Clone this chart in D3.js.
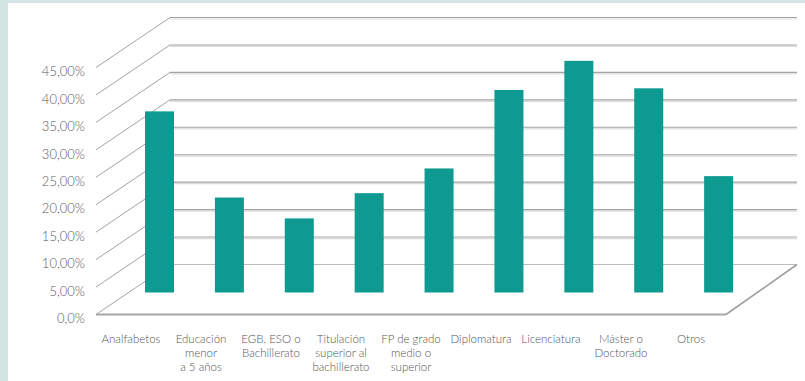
<!DOCTYPE html>
<html>
<head>
<meta charset="utf-8">
<script src="https://cdn.jsdelivr.net/npm/d3@7"></script>
<style>
  html, body { margin: 0; padding: 0; background: #d3e5e3; }
  svg { display: block; }
  text { font-family: Lato, "Open Sans", sans-serif; }
</style>
</head>
<body>
<svg id="chart" width="805" height="381"></svg>
<script>
// data
const categories = [
    "Analfabetos",
    "Educación\nmenor\na 5 años",
    "EGB, ESO o\nBachillerato",
    "Titulación\nsuperior al\nbachillerato",
    "FP de grado\nmedio o\nsuperior",
    "Diplomatura",
    "Licenciatura",
    "Máster o\nDoctorado",
    "Otros"
];
const values = [33.0, 17.3, 13.5, 18.1, 22.6, 36.9, 42.2, 37.2, 21.2];
const tickValues = [0, 5, 10, 15, 20, 25, 30, 35, 40, 45];
const tickLabels = ["0,0%", "5,00%", "10,00%", "15,00%", "20,00%", "25,00%", "30,00%", "35,00%", "40,00%", "45,00%"];

// geometry of the fake 3d box
const floorFront = 314.5, floorBack = 264.5;
const frontX = [96, 726], backX = [170, 797];
const depthX = backX[0] - frontX[0], depthY = floorFront - floorBack;
const barDepth = 0.44;   // bars sit a bit less than halfway into the box

const svg = d3.select("#chart");

// white panel
svg.append("rect")
    .attr("x", 8).attr("y", 3)
    .attr("width", 805 - 8).attr("height", 381 - 3)
    .attr("fill", "#fff");

const h = d3.scaleLinear().domain([0, 45]).range([0, 247]);

const xFront = d3.scaleBand().domain(categories).range(frontX);
const xBar = d3.scaleBand().domain(categories)
    .range([frontX[0] + depthX * barDepth - 4, frontX[1] + depthX * barDepth - 5])
    .paddingInner(0.585).paddingOuter(0.2925);
const barBase = floorFront - depthY * barDepth;

const grid = svg.append("g");

// back wall lines (with the light shadow excel puts under them)
grid.selectAll("line.shadow")
    .data(tickValues.slice(1))
    .join("line")
    .attr("class", "shadow")
    .attr("x1", backX[0]).attr("x2", backX[1])
    .attr("y1", d => floorBack - h(d) + 1.5)
    .attr("y2", d => floorBack - h(d) + 1.5)
    .attr("stroke", "#dcdcdc").attr("stroke-width", 1.2);

grid.selectAll("line.back")
    .data(tickValues)
    .join("line")
    .attr("class", "back")
    .attr("x1", backX[0]).attr("x2", backX[1])
    .attr("y1", d => floorBack - h(d))
    .attr("y2", d => floorBack - h(d))
    .attr("stroke", d => d === 0 ? "#bdbdbd" : "#a3a3a3")
    .attr("stroke-width", 1.1);

// left side wall diagonals
grid.selectAll("line.side")
    .data(tickValues)
    .join("line")
    .attr("class", "side")
    .attr("x1", frontX[0]).attr("y1", d => floorFront - h(d))
    .attr("x2", backX[0]).attr("y2", d => floorBack - h(d))
    .attr("stroke", "#a3a3a3").attr("stroke-width", 1);

// floor front edge + right edge
grid.append("line")
    .attr("x1", frontX[0]).attr("x2", frontX[1])
    .attr("y1", floorFront).attr("y2", floorFront)
    .attr("stroke", "#a8a8a8").attr("stroke-width", 2);
grid.append("line")
    .attr("x1", frontX[1]).attr("y1", floorFront)
    .attr("x2", backX[1]).attr("y2", floorBack)
    .attr("stroke", "#a0a0a0").attr("stroke-width", 1.6);

// bars
svg.append("g")
    .selectAll("rect")
    .data(values)
    .join("rect")
    .attr("x", (d, i) => xBar(categories[i]))
    .attr("width", xBar.bandwidth())
    .attr("y", d => barBase - h(d))
    .attr("height", d => h(d))
    .attr("fill", "#0e9a91");

// y labels
const yFront = d3.scaleLinear().domain([0, 45]).range([floorFront, floorFront - h(45)]);
const yAxis = d3.axisLeft(yFront)
    .tickValues(tickValues)
    .tickFormat((d, i) => tickLabels[i])
    .tickSize(0)
    .tickPadding(0);

svg.append("g")
    .attr("transform", "translate(85,4)")
    .call(yAxis)
    .call(g => g.select(".domain").remove())
    .selectAll("text")
    .attr("fill", "#5a5a5a")
    .style("font-family", "Lato, sans-serif")
    .style("font-size", "13px")
    .style("font-weight", 300);

// category labels
const lab = svg.append("g")
    .selectAll("text")
    .data(categories)
    .join("text")
    .attr("x", d => xFront(d) + xFront.bandwidth() / 2)
    .attr("y", 343)
    .attr("text-anchor", "middle")
    .attr("fill", "#555")
    .style("font-size", "11.5px")
    .style("font-weight", 300);

lab.selectAll("tspan")
    .data(d => d.split("\n"))
    .join("tspan")
    .attr("x", function () { return this.parentNode.getAttribute("x"); })
    .attr("dy", (d, i) => i === 0 ? 0 : 14)
    .text(d => d);
</script>
</body>
</html>
